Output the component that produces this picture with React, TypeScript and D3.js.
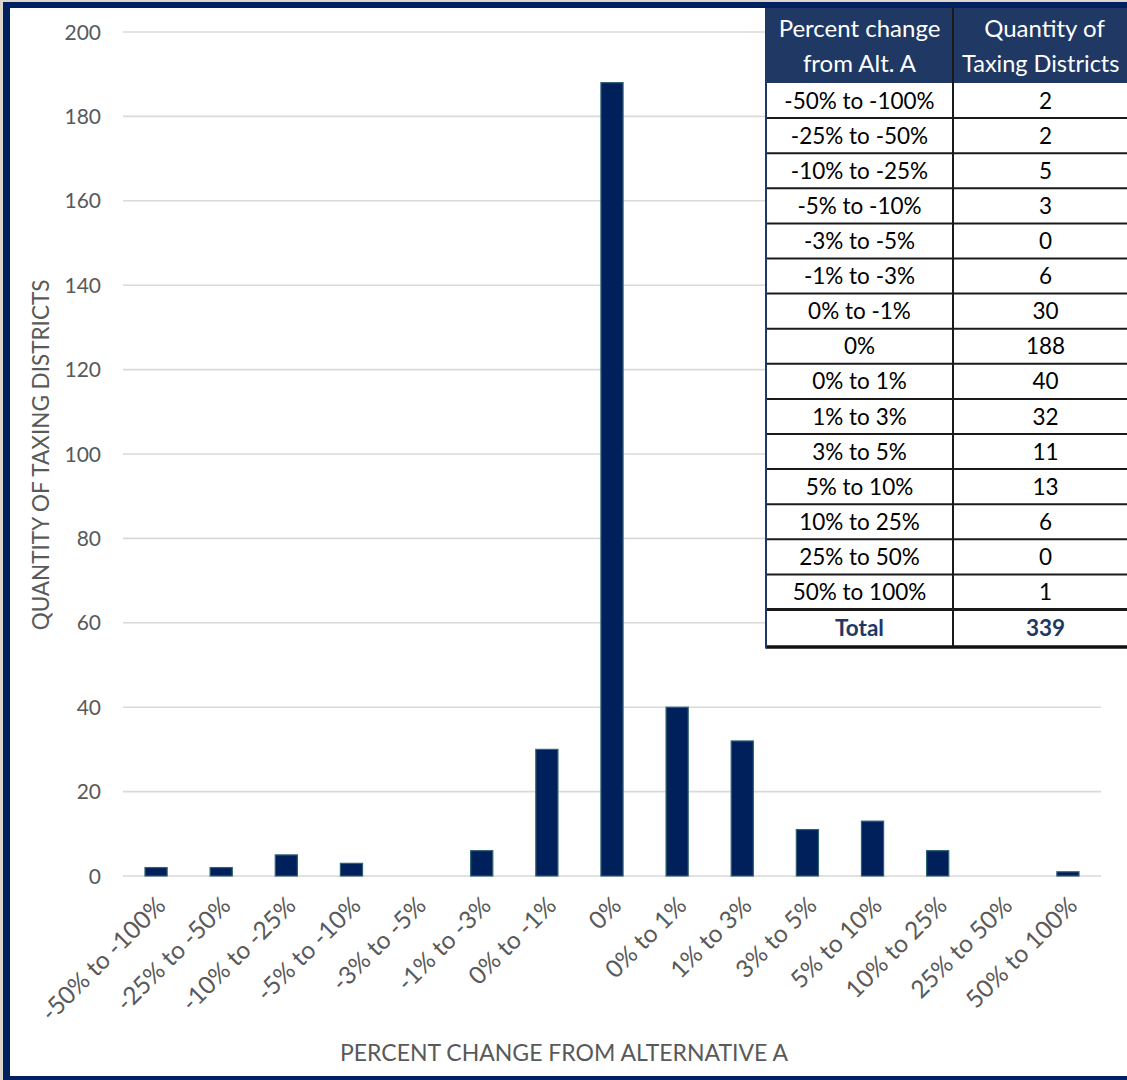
import React from "react";
import * as d3 from "d3";

const categories = [
  "-50% to -100%", "-25% to -50%", "-10% to -25%", "-5% to -10%", "-3% to -5%",
  "-1% to -3%", "0% to -1%", "0%", "0% to 1%", "1% to 3%", "3% to 5%",
  "5% to 10%", "10% to 25%", "25% to 50%", "50% to 100%",
];
const counts = [2, 2, 5, 3, 0, 6, 30, 188, 40, 32, 11, 13, 6, 0, 1];
const yTicks = [0, 20, 40, 60, 80, 100, 120, 140, 160, 180, 200];
const tableHeader1 = ["Percent change", "from Alt. A"];
const tableHeader2 = ["Quantity of", "Taxing Districts"];
const totalLabel = "Total";
const totalValue = d3.sum(counts);

const W = 1127;
const H = 1080;
const FONT = "Lato, 'Open Sans', sans-serif";
const NAVY = "#002060";
const GRAY = "#595959";

export default function App() {
  const x = d3.scaleBand<string>().domain(categories).range([123.5, 1100.5]).paddingInner(0.66).paddingOuter(0.33);
  const y = d3.scaleLinear().domain([0, 200]).range([876, 32]);

  const tLeft = 766;
  const tDiv = 953;
  const tRight = 1140;
  const headTop = 8;
  const headBottom = 83;
  const rowH = 35.1;
  const rowY = (i: number) => headBottom + i * rowH;
  const totalTop = rowY(categories.length);
  const totalBottom = 647;
  const c1 = (tLeft + tDiv) / 2;
  const c2 = (tDiv + tRight) / 2;

  return (
    <div style={{ position: "absolute", left: 0, top: 0 }}>
      <svg width={W} height={H} style={{ display: "block" }}>
        <rect x={0} y={0} width={W} height={H} fill="#ddd6cc" />
        <rect x={3} y={2} width={W + 10} height={H} fill={NAVY} />
        <rect x={10} y={8} width={W} height={1068} fill="#ffffff" />

        {yTicks.map((t) => (
          <line key={t} x1={123} x2={1101} y1={y(t)} y2={y(t)} stroke="#d9d9d9" strokeWidth={1.6} />
        ))}
        {yTicks.map((t) => (
          <text key={t} x={101} y={y(t)} dy="0.36em" textAnchor="end" fontFamily={FONT} fontSize={21} fill={GRAY}>
            {t}
          </text>
        ))}
        {categories.map((c, i) =>
          counts[i] > 0 ? (
            <rect
              key={c}
              x={x(c)!}
              y={y(counts[i])}
              width={x.bandwidth()}
              height={y(0) - y(counts[i])}
              fill="#00205b"
              stroke="#2f6272"
              strokeWidth={1.2}
            />
          ) : null
        )}
        {categories.map((c) => {
          const cx = x(c)! + x.bandwidth() / 2;
          return (
            <text
              key={c}
              transform={`translate(${cx + 11},${907}) rotate(-45)`}
              textAnchor="end"
              fontFamily={FONT}
              fontSize={24.5}
              fill={GRAY}
            >
              {c}
            </text>
          );
        })}
        <text x={564} y={1061} textAnchor="middle" fontFamily={FONT} fontSize={23} fill={GRAY}>
          PERCENT CHANGE FROM ALTERNATIVE A
        </text>
        <text transform={`translate(49,455) rotate(-90)`} textAnchor="middle" fontFamily={FONT} fontSize={22.5} fill={GRAY}>
          QUANTITY OF TAXING DISTRICTS
        </text>

        <rect x={tLeft} y={headTop} width={W - tLeft} height={totalBottom - headTop} fill="#ffffff" />
        <rect x={tLeft} y={headTop} width={W - tLeft} height={headBottom - headTop} fill="#1f3864" />
        <text x={c1} y={37} textAnchor="middle" fontFamily={FONT} fontSize={24} fill="#ffffff">{tableHeader1[0]}</text>
        <text x={c1} y={72} textAnchor="middle" fontFamily={FONT} fontSize={24} fill="#ffffff">{tableHeader1[1]}</text>
        <text x={c2 - 2} y={37} textAnchor="middle" fontFamily={FONT} fontSize={24} fill="#ffffff">{tableHeader2[0]}</text>
        <text x={962} y={72} textAnchor="start" fontFamily={FONT} fontSize={23.5} fill="#ffffff">{tableHeader2[1]}</text>
        {categories.map((c, i) => (
          <g key={c}>
            <text x={c1} y={rowY(i) + rowH / 2} dy="0.36em" textAnchor="middle" fontFamily={FONT} fontSize={22.5} fill="#000">{c}</text>
            <text x={c2 - 1} y={rowY(i) + rowH / 2} dy="0.36em" textAnchor="middle" fontFamily={FONT} fontSize={22.5} fill="#000">{counts[i]}</text>
            <line x1={tLeft} x2={W} y1={rowY(i + 1)} y2={rowY(i + 1)} stroke="#1a1a1a" strokeWidth={i === categories.length - 1 ? 3 : 2} />
          </g>
        ))}
        <text x={c1} y={(totalTop + totalBottom) / 2} dy="0.36em" textAnchor="middle" fontFamily={FONT} fontSize={22.5} fontWeight="bold" fill="#1f3864">{totalLabel}</text>
        <text x={c2 - 1} y={(totalTop + totalBottom) / 2} dy="0.36em" textAnchor="middle" fontFamily={FONT} fontSize={22.5} fontWeight="bold" fill="#1f3864">{totalValue}</text>
        <line x1={tLeft} x2={W} y1={totalBottom} y2={totalBottom} stroke="#111" strokeWidth={3.5} />
        <line x1={tDiv} x2={tDiv} y1={headTop} y2={totalBottom} stroke="#1a1a1a" strokeWidth={2} />
        <line x1={tLeft} x2={tLeft} y1={headTop} y2={totalBottom + 1.5} stroke="#1f3864" strokeWidth={2} />
      </svg>
    </div>
  );
}
